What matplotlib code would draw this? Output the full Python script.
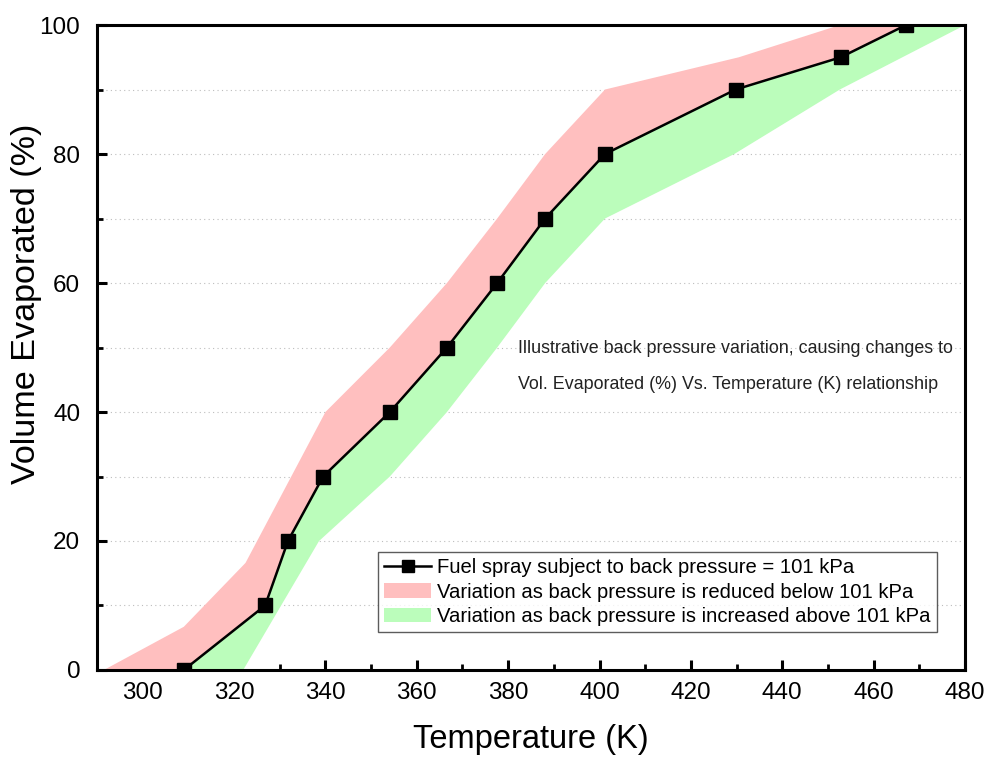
import matplotlib
matplotlib.use("Agg")
import matplotlib.pyplot as plt
from matplotlib.patches import Patch
from matplotlib.lines import Line2D
from matplotlib.ticker import MultipleLocator

plt.rcParams['font.family'] = ['Liberation Sans', 'DejaVu Sans']

# Baseline curve (101 kPa)
temp_base = [309, 326.8, 331.8, 339.5, 354.1, 366.6, 377.6, 388.1, 401.2, 429.8, 452.8, 467.1]
vol_base = [0, 10, 20, 30, 40, 50, 60, 70, 80, 90, 95, 100]

# Upper band boundary (reduced back pressure)
temp_low_p = [291.5, 309.0, 322.5, 340.0, 354.1, 366.6, 377.6, 388.1, 401.2, 430.5, 452.6, 467.1]
vol_low_p = [0, 6.7, 16.6, 40, 50, 60, 70, 80, 90, 95, 100, 100]

# Lower band boundary (increased back pressure)
temp_high_p = [322.0, 338.6, 354.1, 366.6, 377.6, 388.1, 401.2, 429.5, 452.6, 480]
vol_high_p = [0, 20, 30, 40, 50, 60, 70, 80, 90, 100]

red_fill = '#ffbfbf'
green_fill = '#bbfdbb'

fig = plt.figure(figsize=(9.92, 7.58), dpi=100)
ax = fig.add_axes([0.0978, 0.1161, 0.875, 0.8509])

# red band: between upper boundary and baseline
ax.fill(temp_low_p + temp_base[::-1] + [temp_low_p[0]],
        vol_low_p + vol_base[::-1] + [vol_low_p[0]],
        color=red_fill, lw=0, zorder=1)
# green band: between baseline and lower boundary
ax.fill(temp_base + [480] + temp_high_p[::-1],
        vol_base + [100] + vol_high_p[::-1],
        color=green_fill, lw=0, zorder=1)

ax.plot(temp_base, vol_base, color='black', lw=1.8, marker='s', markersize=10,
        zorder=3)

ax.set_xlim(290, 480)
ax.set_ylim(0, 100)
ax.xaxis.set_major_locator(MultipleLocator(20))
ax.xaxis.set_minor_locator(MultipleLocator(10))
ax.yaxis.set_major_locator(MultipleLocator(20))
ax.yaxis.set_minor_locator(MultipleLocator(10))

ax.yaxis.grid(True, which='both', linestyle=(0, (1, 3)), color='#bdbdbd', lw=0.8, zorder=0)
ax.set_axisbelow(True)

for s in ax.spines.values():
    s.set_linewidth(2.2)
    s.set_zorder(5)
ax.tick_params(which='major', direction='in', length=7, width=2.2, labelsize=17.5,
               top=False, right=False)
ax.tick_params(axis='x', which='major', pad=9)
ax.tick_params(axis='y', which='major', pad=12)
ax.tick_params(which='minor', direction='in', length=4.5, width=2.0,
               top=False, right=False)

ax.set_xlabel('Temperature (K)', fontsize=23.5)
ax.set_ylabel('Volume Evaporated (%)', fontsize=24.6)
ax.xaxis.set_label_coords(0.5, -0.083)
ax.yaxis.set_label_coords(-0.063, 0.567)

ax.text(382.2, 49.9, 'Illustrative back pressure variation, causing changes to',
        fontsize=12.9, va='center', ha='left', color='#222222')
ax.text(382.2, 44.2, 'Vol. Evaporated (%) Vs. Temperature (K) relationship',
        fontsize=12.9, va='center', ha='left', color='#222222')

handles = [
    Line2D([], [], color='black', lw=1.8, marker='s', markersize=9),
    Patch(facecolor=red_fill, edgecolor='none'),
    Patch(facecolor=green_fill, edgecolor='none'),
]
labels = [
    'Fuel spray subject to back pressure = 101 kPa',
    'Variation as back pressure is reduced below 101 kPa',
    'Variation as back pressure is increased above 101 kPa',
]
leg = ax.legend(handles, labels, loc='lower left', bbox_to_anchor=(0.324, 0.059),
                fontsize=14.6, frameon=True, fancybox=False, borderpad=0.3,
                labelspacing=0.26, handlelength=2.3, handletextpad=0.3,
                borderaxespad=0)
leg.get_frame().set_edgecolor('#333333')
leg.get_frame().set_linewidth(1.0)

fig.savefig('out.png', dpi=100)
